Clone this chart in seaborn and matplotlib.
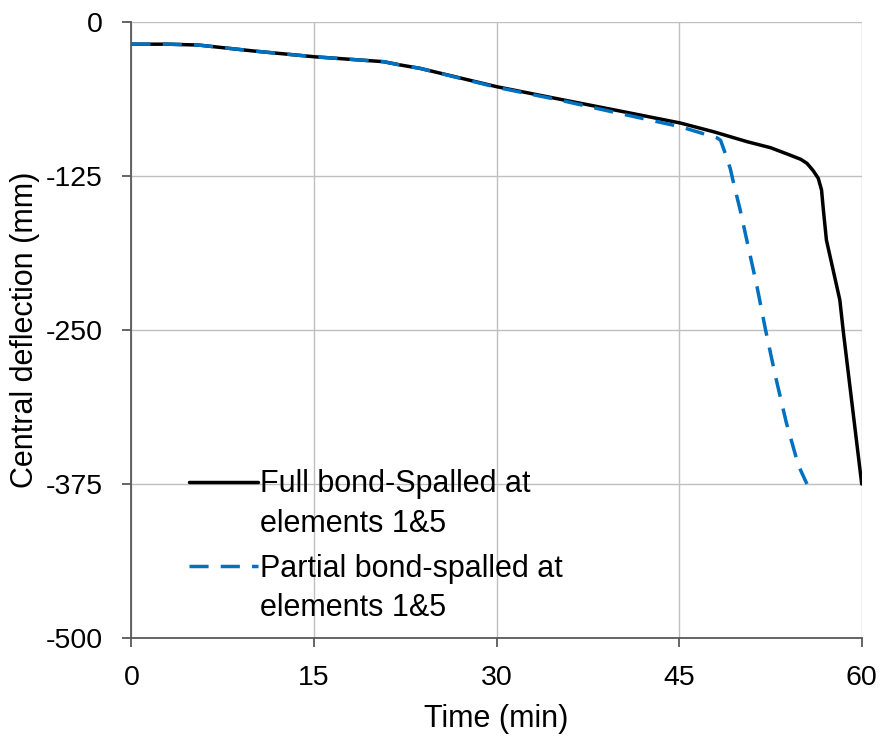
import matplotlib
matplotlib.use("Agg")
import matplotlib.pyplot as plt
import seaborn as sns
import pandas as pd

# ---- data ----
full_time = [0, 3, 5.5, 10, 15, 20.7, 22.1, 23.7, 30, 35, 40, 45.1, 47.8, 50.6, 52.5, 54.1,
             55.0, 55.5, 56.0, 56.43, 56.7, 56.85, 57.1, 58.2, 58.5, 60]
full_defl = [-18, -18, -18.7, -23.5, -28.2, -32.2, -34.9, -37.6, -52.5, -62.3, -72, -82, -89, -97.2, -102, -108,
             -111.5, -114.7, -120.5, -126.9, -136.4, -152.6, -177, -225.6, -252.4, -375]

partial_time = [0, 3, 5.5, 10, 15, 20.7, 22.1, 23.7, 30, 35, 40, 45.1, 48.1, 48.4, 48.8, 49.2, 49.5,
                50.0, 50.6, 51.4, 52.1, 52.9, 53.8, 54.8, 55.5]
partial_defl = [-18, -18, -18.7, -23.5, -28.2, -32.2, -34.9, -37.6, -53, -63, -74, -85, -94, -96, -107, -119, -132,
                -152, -179, -215, -250, -287, -325, -360, -375]

series_names = ["Full bond-Spalled at\nelements 1&5", "Partial bond-spalled at\nelements 1&5"]
x_ticks = [0, 15, 30, 45, 60]
y_ticks = [0, -125, -250, -375, -500]

df = pd.concat([
    pd.DataFrame({"Time": full_time, "Deflection": full_defl, "Series": series_names[0]}),
    pd.DataFrame({"Time": partial_time, "Deflection": partial_defl, "Series": series_names[1]}),
], ignore_index=True)

sns.set_theme(style="white")
plt.rcParams["font.family"] = ["Liberation Sans", "DejaVu Sans"]
plt.rcParams["text.color"] = "black"
plt.rcParams["axes.labelcolor"] = "black"

fig = plt.figure(figsize=(8.83, 7.36), dpi=100)
ax = fig.add_axes([0.1489, 0.1332, 0.827, 0.8369])

sns.lineplot(data=df, x="Time", y="Deflection", hue="Series", style="Series",
             palette={series_names[0]: "#000000", series_names[1]: "#0070C0"},
             dashes={series_names[0]: "", series_names[1]: (5.5, 3.5)},
             linewidth=2.5, sort=False, estimator=None, ax=ax)

ax.set_xlim(0, 60)
ax.set_ylim(-500, 0)
ax.set_xticks(x_ticks)
ax.set_yticks(y_ticks)
ax.set_xticklabels([str(v) for v in x_ticks])
ax.set_yticklabels([str(v) for v in y_ticks])
ax.grid(True, color="#bfbfbf", linewidth=1.0)
ax.set_axisbelow(True)

for s in ["top", "right"]:
    ax.spines[s].set_visible(False)
for s in ["left", "bottom"]:
    ax.spines[s].set_color("#595959")
    ax.spines[s].set_linewidth(1.3)

ax.tick_params(axis="both", which="major", direction="out", length=6.5, width=1.3,
               color="#595959", labelsize=20.5, labelcolor="black", left=True, bottom=True)
ax.tick_params(axis="y", pad=14)
ax.tick_params(axis="x", pad=13)

ax.set_xlabel("Time (min)", fontsize=22)
ax.set_ylabel("Central deflection (mm)", fontsize=22)
ax.xaxis.set_label_coords(0.5, -0.107)
ax.yaxis.set_label_coords(-0.1254, 0.5)

leg = ax.legend(loc="upper left", bbox_to_anchor=(0.079, 0.274), frameon=False, fontsize=22,
                handlelength=2.25, handletextpad=0.07, labelspacing=0.5, borderpad=0,
                borderaxespad=0, handleheight=1.1)
for txt in leg.get_texts():
    txt.set_linespacing(1.41)
for col in leg._legend_handle_box.get_children():
    for row in col.get_children():
        row.align = "top"

fig.savefig("out.png", dpi=100)
